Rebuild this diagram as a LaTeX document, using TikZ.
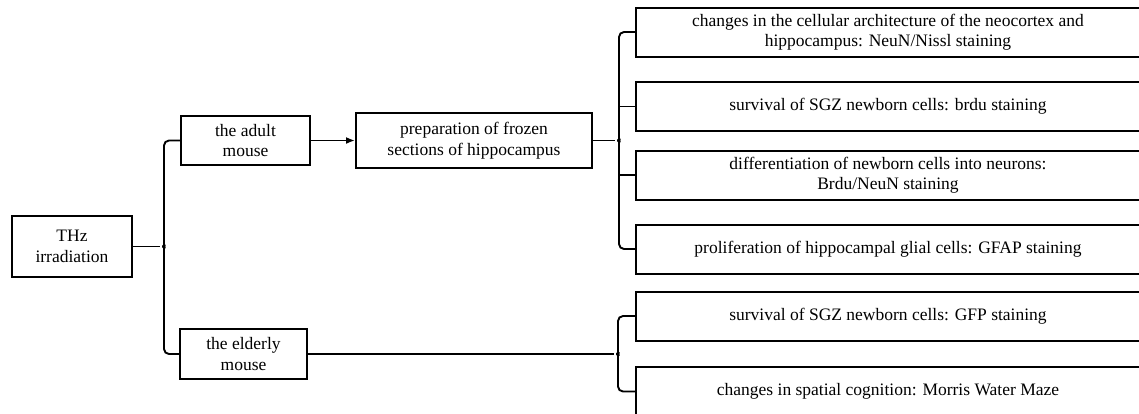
\documentclass[tikz,border=0pt]{standalone}
\usepackage{fontspec}
\setmainfont{Liberation Serif}
\usetikzlibrary{arrows.meta,calc}
\begin{document}
\begin{tikzpicture}[x=1pt,y=-1pt,
  box/.style={draw=black,line width=2pt,rectangle,inner sep=0pt,align=center,
    font=\fontsize{17.5}{20.5}\selectfont},
  conn/.style={line width=1.9pt,line join=round},
  arr/.style={conn,-{Latex[length=9pt,width=7pt]}}]
\useasboundingbox (0,0) rectangle (1139,413);
% left nodes
\node[box,minimum width=120pt,minimum height=61pt] (thz) at (72,246.5) {THz\\irradiation};
\node[box,minimum width=129pt,minimum height=49pt] (adult) at (245.5,140.5) {the adult\\mouse};
\node[box,minimum width=236pt,minimum height=55pt] (prep) at (474,140.5) {preparation of frozen\\sections of hippocampus};
\node[box,minimum width=127pt,minimum height=50pt] (elder) at (243.5,354) {the elderly\\mouse};
% right boxes
\tikzset{rbox/.style={box,minimum width=504pt,minimum height=49pt}}
\node[rbox] (r1) at (888,32) {changes in the cellular architecture of the neocortex and\\hippocampus: NeuN/Nissl staining};
\node[rbox] (r2) at (888,106.5) {survival of SGZ newborn cells: brdu staining};
\node[rbox] (r3) at (888,175) {differentiation of newborn cells into neurons:\\Brdu/NeuN staining};
\node[rbox] (r4) at (888,249) {proliferation of hippocampal glial cells: GFAP staining};
\node[rbox] (r5) at (888,316) {survival of SGZ newborn cells: GFP staining};
\node[rbox] (r6) at (888,391.5) {changes in spatial cognition: Morris Water Maze};
% brace columns
\coordinate (b1) at (164,0);
\coordinate (b2) at (619,0);
\coordinate (b3) at (618,0);
% brace 1 (THz -> adult/elderly)
\coordinate (m1) at (thz.east -| b1);
\draw[conn,rounded corners=5pt] (adult.west) -- (adult.west -| b1) -- ($(m1)+(0,-5)$)
  .. controls ($(m1)+(0,-1)$) .. ($(m1)+(-4,0)$) .. controls ($(m1)+(0,1)$) .. ($(m1)+(0,5)$)
  -- (elder.west -| b1) -- (elder.west);
\draw[conn] (thz.east) -- ($(m1)+(-4,0)$);
% arrow adult -> prep
\draw[arr] (adult.east) -- (prep.west);
% brace 2 (prep -> r1..r4)
\coordinate (m2) at (prep.east -| b2);
\draw[conn,rounded corners=5pt] (r1.west) -- (r1.west -| b2) -- ($(m2)+(0,-5)$)
  .. controls ($(m2)+(0,-1)$) .. ($(m2)+(-4,0)$) .. controls ($(m2)+(0,1)$) .. ($(m2)+(0,5)$)
  -- (r4.west -| b2) -- (r4.west);
\draw[conn] (prep.east) -- ($(m2)+(-4,0)$);
\draw[conn] (r2.west -| b2) -- (r2.west);
\draw[conn] (r3.west -| b2) -- (r3.west);
% brace 3 (elderly -> r5, r6)
\coordinate (m3) at (elder.east -| b3);
\draw[conn,rounded corners=5pt] (r5.west) -- (r5.west -| b3) -- ($(m3)+(0,-5)$)
  .. controls ($(m3)+(0,-1)$) .. ($(m3)+(-4,0)$) .. controls ($(m3)+(0,1)$) .. ($(m3)+(0,5)$)
  -- (r6.west -| b3) -- (r6.west);
\draw[conn] (elder.east) -- ($(m3)+(-4,0)$);
\end{tikzpicture}
\end{document}
